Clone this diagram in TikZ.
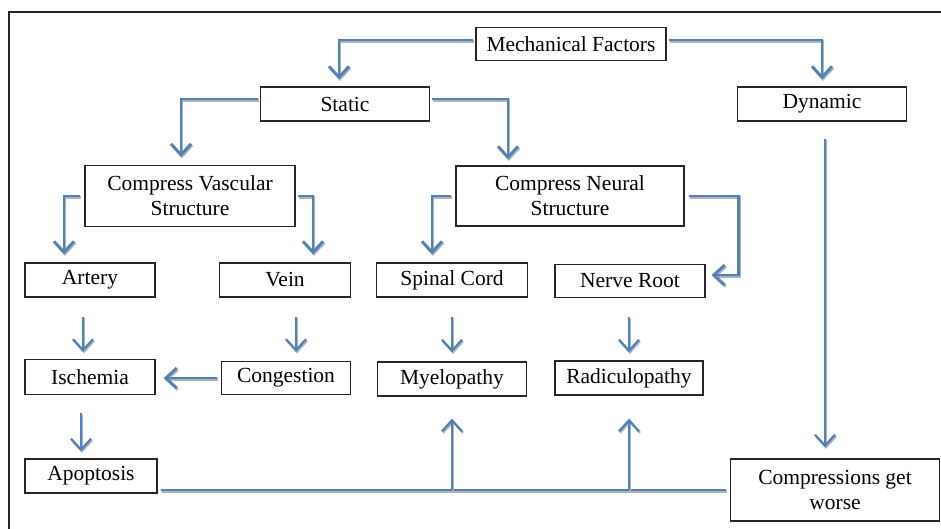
\documentclass[tikz,border=0pt]{standalone}
\usepackage{fontspec}
\setmainfont{Liberation Serif}
\usetikzlibrary{arrows.meta}
\definecolor{arrblue}{RGB}{79,129,189}
\tikzset{
  box/.style={draw=black!85, line width=1.3pt, fill=white, inner sep=0pt, align=center,
    font=\fontsize{21.5}{25}\selectfont},
  shadowed/.style={preaction={draw=black!30, line width=#1, transform canvas={shift={(1pt,-1.5pt)}}}},
  flow/.style={draw=arrblue, line width=2.8pt, -{Straight Barb[length=11pt,width=20pt]}, shadowed=2.8pt},
  thinflow/.style={draw=arrblue, line width=2.2pt, -{Straight Barb[length=11pt,width=20pt]}, shadowed=2.2pt},
  plain/.style={draw=arrblue, line width=2.8pt, shadowed=2.8pt},
}
\begin{document}
\begin{tikzpicture}[x=1pt,y=-1pt]
\useasboundingbox (0,0) rectangle (941,529);
% frame
\draw[black!85, line width=1.5pt] (9,529) -- (9,12) -- (941,12);
% nodes
\node[box, minimum width=190pt, minimum height=33pt] (mech) at (571,44) {Mechanical Factors};
\node[box, minimum width=169pt, minimum height=34pt] (static) at (345,104) {Static};
\node[box, minimum width=169pt, minimum height=34pt] (dyn) at (822,104) {Dynamic};
\node[box, minimum width=210pt, minimum height=61pt] (cvs) at (190,196) {Compress Vascular\\Structure};
\node[box, minimum width=228pt, minimum height=60pt] (cns) at (570,196) {Compress Neural\\Structure};
\node[box, minimum width=130pt, minimum height=34pt] (artery) at (90,280) {Artery};
\node[box, minimum width=131pt, minimum height=34pt] (vein) at (285,280) {Vein};
\node[box, minimum width=151pt, minimum height=34pt] (spinal) at (452,280) {Spinal Cord};
\node[box, minimum width=150pt, minimum height=33pt] (nerve) at (630,281) {Nerve Root};
\node[box, minimum width=130pt, minimum height=35pt] (isch) at (90,377) {Ischemia};
\node[box, minimum width=129pt, minimum height=33pt] (cong) at (286,378) {Congestion};
\node[box, minimum width=149pt, minimum height=34pt] (myelo) at (452,379) {Myelopathy};
\node[box, minimum width=148pt, minimum height=34pt] (radic) at (629,378) {Radiculopathy};
\node[box, minimum width=132pt, minimum height=34pt] (apop) at (91,476) {Apoptosis};
\node[box, minimum width=209pt, minimum height=62pt] (cgw) at (835,490) {Compressions get\\worse};
% connectors
\draw[flow, shorten <=2pt, shorten >=7pt] ([yshift=4pt]mech.west) -| ([xshift=-6pt]static.north);
\draw[flow, shorten <=2pt, shorten >=7pt] ([yshift=4pt]mech.east) -| (dyn.north);
\draw[flow, shorten <=2pt, shorten >=8pt] ([yshift=5pt]static.west) -| ([xshift=-9pt]cvs.north);
\draw[flow, shorten <=2pt, shorten >=6pt] ([yshift=5pt]static.east) -| ([xshift=-62pt]cns.north);
\draw[flow, shorten <=4pt, shorten >=8pt] (cvs.west) -| ([xshift=-26pt]artery.north);
\draw[flow, shorten <=2pt, shorten >=8pt] (cvs.east) -| ([xshift=28pt]vein.north);
\draw[flow, shorten <=4pt, shorten >=8pt] (cns.west) -| ([xshift=-20pt]spinal.north);
\coordinate (crn) at ([xshift=33pt,yshift=6pt]nerve.east);
\draw[flow, shorten <=4pt, shorten >=6pt] (cns.east) -| (crn) -- ([yshift=6pt]nerve.east);
\draw[thinflow, shorten <=19pt, shorten >=7pt] ([xshift=-7pt]artery.south) -- ([xshift=-7pt]artery.south |- isch.north);
\draw[thinflow, shorten <=19pt, shorten >=9pt] ([xshift=11pt]vein.south) -- ([xshift=11pt]vein.south |- cong.north);
\draw[thinflow, shorten <=19pt, shorten >=9pt] (spinal.south) -- (myelo.north);
\draw[thinflow, shorten <=19pt, shorten >=8pt] ([xshift=-1pt]nerve.south) -- ([xshift=-1pt]nerve.south |- radic.north);
\draw[flow, shorten <=4pt, shorten >=8pt] (cong.west) -- (cong.west -| isch.east);
\draw[thinflow, shorten <=18pt, shorten >=7pt] ([xshift=-9pt]isch.south) -- ([xshift=-9pt]isch.south |- apop.north);
\draw[thinflow, shorten <=17pt, shorten >=11pt] ([xshift=3pt]dyn.south) -- ([xshift=3pt]dyn.south |- cgw.north);
\coordinate (bl) at ([xshift=3pt]apop.east |- cgw.west);
\draw[plain, shorten <=4pt] (cgw.west) -- (bl);
\draw[thinflow, shorten >=22pt] (myelo.south |- cgw.west) -- (myelo.south);
\draw[thinflow, shorten >=23pt] (radic.south |- cgw.west) -- (radic.south);
\end{tikzpicture}
\end{document}
